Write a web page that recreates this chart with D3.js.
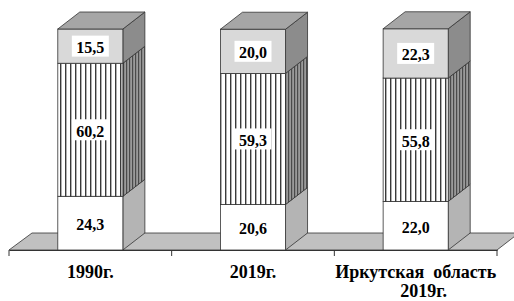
<!DOCTYPE html>
<html>
<head>
<meta charset="utf-8">
<script src="https://cdn.jsdelivr.net/npm/d3@7"></script>
<style>
  body { margin: 0; background: #fff; }
  text { font-family: "Liberation Serif", "Times New Roman", serif; font-weight: bold; }
</style>
</head>
<body>
<div id="chart"></div>
<script>
// categories and shares (%), bottom -> top
var categories = ['1990г.', '2019г.', 'Иркутская область 2019г.'];
var catLines = [['1990г.'], ['2019г.'], ['Иркутская  область', '2019г.']];
var bottomVals = [24.3, 20.6, 22.0];
var middleVals = [60.2, 59.3, 55.8];
var topVals = [15.5, 20.0, 22.3];

var width = 514, height = 301;
var depthX = 22, depthY = 17;

var svg = d3.select('#chart').append('svg')
    .attr('width', width)
    .attr('height', height);

var defs = svg.append('defs');

// vertical stripes for the front of the middle segment
var p1 = defs.append('pattern')
    .attr('id', 'stripes')
    .attr('patternUnits', 'userSpaceOnUse')
    .attr('width', 5).attr('height', 10);
p1.append('rect').attr('width', 5).attr('height', 10).attr('fill', '#fff');
p1.append('rect').attr('x', 0).attr('width', 1.4).attr('height', 10).attr('fill', '#3a3a3a');

// darker stripes for the side
var p2 = defs.append('pattern')
    .attr('id', 'stripesSide')
    .attr('patternUnits', 'userSpaceOnUse')
    .attr('width', 3).attr('height', 10);
p2.append('rect').attr('width', 3).attr('height', 10).attr('fill', '#9a9a9a');
p2.append('rect').attr('x', 0).attr('width', 1.2).attr('height', 10).attr('fill', '#4a4a4a');

var x = d3.scaleBand()
    .domain(categories)
    .range([9, 497])
    .paddingInner(0)
    .paddingOuter(0);

var y = d3.scaleLinear()
    .domain([0, 100])
    .range([250, 29]);

var barW = x.bandwidth() * 0.4;

// floor
var floorY = y(0);
svg.append('path')
    .attr('d', 'M' + x.range()[0] + ',' + floorY +
        'L' + x.range()[1] + ',' + floorY +
        'L' + (x.range()[1] + depthX) + ',' + (floorY - depthY) +
        'L' + (x.range()[0] + depthX + 1) + ',' + (floorY - depthY) + 'Z')
    .attr('fill', '#c0c0c0')
    .attr('stroke', '#333')
    .attr('stroke-width', 0.8);

// axis
var xAxis = d3.axisBottom(x).tickSize(0).tickFormat('');
var axisG = svg.append('g')
    .attr('transform', 'translate(0,' + floorY + ')')
    .call(xAxis);
axisG.select('.domain').attr('stroke', '#333');
var tickPos = [x.range()[0]].concat(categories.map(function (c) { return x(c) + x.bandwidth(); }));
axisG.selectAll('.tk')
    .data(tickPos)
    .enter().append('line')
    .attr('x1', function (d) { return d; })
    .attr('x2', function (d) { return d; })
    .attr('y1', 0).attr('y2', 6)
    .attr('stroke', '#333');

var data = categories.map(function (c, i) {
    return {
        cat: c,
        segs: [
            {v: bottomVals[i], front: '#ffffff', side: '#b4b4b4'},
            {v: middleVals[i], front: 'url(#stripes)', side: 'url(#stripesSide)'},
            {v: topVals[i], front: '#d9d9d9', side: '#8c8c8c'}
        ]
    };
});

var bars = svg.selectAll('.bar')
    .data(data)
    .enter().append('g')
    .attr('class', 'bar');

bars.each(function (d) {
    var g = d3.select(this);
    var x0 = x(d.cat) + x.bandwidth() * 0.3;
    var x1 = x0 + barW;
    var cum = 0;
    d.segs.forEach(function (s) {
        var yb = y(cum), yt = y(cum + s.v);
        cum += s.v;
        // side face
        g.append('path')
            .attr('d', 'M' + x1 + ',' + yb + 'L' + (x1 + depthX) + ',' + (yb - depthY) +
                'L' + (x1 + depthX) + ',' + (yt - depthY) + 'L' + x1 + ',' + yt + 'Z')
            .attr('fill', s.side)
            .attr('stroke', '#333')
            .attr('stroke-width', 0.8);
        // front face
        g.append('rect')
            .attr('x', x0).attr('y', yt)
            .attr('width', barW).attr('height', yb - yt)
            .attr('fill', s.front)
            .attr('stroke', '#333')
            .attr('stroke-width', 0.8);
        s.cy = (yb + yt) / 2;
    });
    // top face
    var ytop = y(cum);
    g.append('path')
        .attr('d', 'M' + x0 + ',' + ytop + 'L' + x1 + ',' + ytop +
            'L' + (x1 + depthX) + ',' + (ytop - depthY) + 'L' + (x0 + depthX) + ',' + (ytop - depthY) + 'Z')
        .attr('fill', '#a6a6a6')
        .attr('stroke', '#333')
        .attr('stroke-width', 0.8);

    // value labels in white boxes
    d.segs.forEach(function (s) {
        var cx = (x0 + x1) / 2;
        var lbl = g.append('g');
        var box = lbl.append('rect').attr('fill', '#fff');
        var t = lbl.append('text')
            .attr('x', cx).attr('y', s.cy + 7)
            .attr('text-anchor', 'middle')
            .attr('font-size', 16)
            .attr('fill', '#000')
            .text(d3.format('.1f')(s.v).replace('.', ','));
        var bb = t.node().getBBox();
        box.attr('x', bb.x - 4.5).attr('y', s.cy - 10.5)
            .attr('width', bb.width + 9).attr('height', 21);
    });
});

// category labels
svg.selectAll('.cat')
    .data(categories)
    .enter().append('text')
    .attr('class', 'cat')
    .attr('text-anchor', 'middle')
    .attr('font-size', 18)
    .attr('fill', '#000')
    .each(function (c, i) {
        var t = d3.select(this);
        var cx = x(c) + x.bandwidth() / 2;
        catLines[i].forEach(function (line, j) {
            t.append('tspan')
                .attr('x', j === 0 ? cx : cx + 8)
                .attr('y', 278 + j * 19)
                .style('white-space', 'pre')
                .text(line);
        });
    });
</script>
</body>
</html>
